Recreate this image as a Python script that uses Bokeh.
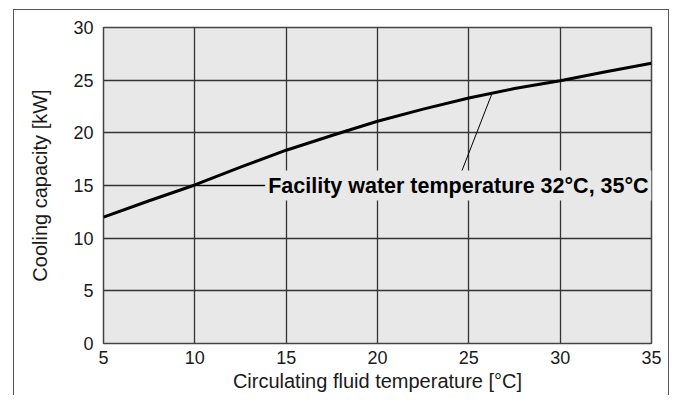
from bokeh.plotting import figure
from bokeh.models import Range1d, FixedTicker, Label
from bokeh.embed import file_html
from bokeh.resources import INLINE

# Data
circ_temp = [5, 7.5, 10, 12.5, 15, 17.5, 20, 22.5, 25, 27.5, 30, 32.5, 35]
capacity = [12.0, 13.55, 15.05, 16.75, 18.35, 19.75, 21.1, 22.25, 23.3, 24.2, 24.95, 25.8, 26.6]
x_ticks = [5, 10, 15, 20, 25, 30, 35]
y_ticks = [0, 5, 10, 15, 20, 25, 30]
annotation_text = "Facility water temperature 32\u00b0C, 35\u00b0C"
leader_x = [26.25, 24.6]
leader_y = [23.65, 16.3]
hleader_x = [10, 13.85]
hleader_y = [15, 15]
label_x = 13.85
label_y = 15

FONT = "Liberation Sans"
BG = "#e8e8e8"

p = figure(width=656, height=386, output_backend="svg", toolbar_location=None,
           x_range=Range1d(5, 35), y_range=Range1d(0, 30),
           min_border_left=89, min_border_right=19, min_border_top=17, min_border_bottom=53)
p.styles = {"position": "relative", "left": "13px", "top": "9px",
            "border-left": "1px solid #555", "border-top": "1px solid #555",
            "border-right": "1px solid #555"}

p.background_fill_color = BG
p.border_fill_color = "white"
p.outline_line_color = "#444"
p.outline_line_width = 1.5

p.xaxis.ticker = FixedTicker(ticks=x_ticks)
p.yaxis.ticker = FixedTicker(ticks=y_ticks)
for ax in (p.xaxis[0], p.yaxis[0]):
    ax.axis_line_color = None
    ax.major_tick_line_color = None
    ax.minor_tick_line_color = None
    ax.major_tick_out = 0
    ax.major_tick_in = 0
    ax.major_label_text_font = FONT
    ax.major_label_text_font_size = "18px"
    ax.major_label_text_color = "#1a1a1a"
    ax.axis_label_text_font = FONT
    ax.axis_label_text_font_size = "20px"
    ax.axis_label_text_font_style = "normal"
    ax.axis_label_text_color = "#1a1a1a"

p.xaxis.axis_label = "Circulating fluid temperature [\u00b0C]"
p.yaxis.axis_label = "Cooling capacity [kW]"
p.xaxis.major_label_standoff = 7
p.xaxis.axis_label_standoff = 3
p.yaxis.major_label_standoff = 10
p.yaxis.axis_label_standoff = 19

p.xgrid.ticker = FixedTicker(ticks=x_ticks)
p.ygrid.ticker = FixedTicker(ticks=y_ticks)
p.grid.grid_line_color = "#333333"
p.grid.grid_line_width = 1.3

p.line(circ_temp, capacity, line_color="black", line_width=3)
p.line(leader_x, leader_y, line_color="black", line_width=1)
p.line(hleader_x, hleader_y, line_color="black", line_width=1.2)

lbl = Label(x=label_x, y=label_y, text=annotation_text, text_font=FONT,
            text_font_size="21.5px", text_font_style="bold", text_color="black",
            text_align="left", text_baseline="middle",
            background_fill_color=BG, padding=3)
p.add_layout(lbl)

open("out.html", "w").write(file_html(p, INLINE))
